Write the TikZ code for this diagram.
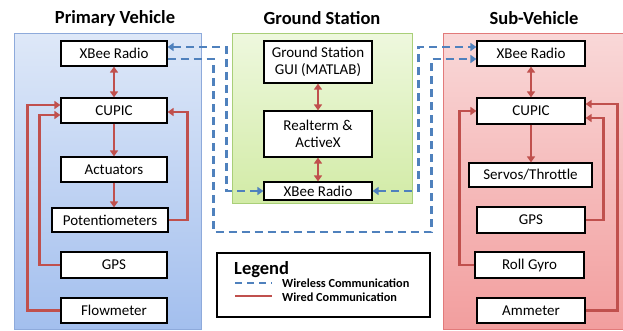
\documentclass[tikz,border=0pt]{standalone}
\usepackage{fontspec}
\setmainfont{Carlito}
\usetikzlibrary{arrows.meta,calc}
\definecolor{wiredred}{HTML}{C0504D}
\definecolor{wlblue}{HTML}{4F81BD}
\definecolor{pvtop}{HTML}{DEE8F8}
\definecolor{pvbot}{HTML}{A3BFEE}
\definecolor{pvline}{HTML}{8EAADB}
\definecolor{gstop}{HTML}{EEF8DE}
\definecolor{gsbot}{HTML}{D2EBA6}
\definecolor{gsline}{HTML}{A9CF78}
\definecolor{svtop}{HTML}{F9D8D8}
\definecolor{svbot}{HTML}{F29E9E}
\definecolor{svline}{HTML}{E27A7A}
\begin{document}
\begin{tikzpicture}[x=1pt,y=-1pt,
  bx/.style 2 args={draw=black,line width=1.2pt,fill=white,minimum width=#1pt,minimum height=#2pt,inner sep=1pt,font=\fontsize{15}{17.5}\selectfont,align=center},
  wired/.style={draw=wiredred,line width=2.4pt,-{Triangle[length=6pt,width=8pt]}},
  wired2/.style={draw=wiredred,line width=2.4pt,{Triangle[length=6pt,width=8pt]}-{Triangle[length=6pt,width=8pt]}},
  wl/.style={draw=wlblue,line width=2.4pt,dash pattern=on 8pt off 5pt},
  title/.style={font=\bfseries\fontsize{18.5}{21}\selectfont}]
\useasboundingbox (0,0) rectangle (623,330);
% panels
\shade[top color=pvtop,bottom color=pvbot,draw=pvline,line width=0.8pt] (14,33) rectangle (201,329);
\shade[top color=gstop,bottom color=gsbot,draw=gsline,line width=0.8pt] (232,33) rectangle (412,203);
\shade[top color=svtop,bottom color=svbot,draw=svline,line width=0.8pt] (443,33) rectangle (623,329);
% titles
\node[title] (tP) at (115,18) {Primary Vehicle};
\node[title] (tG) at (322,18) {Ground Station};
\node[title] (tS) at (534,18) {Sub-Vehicle};
% primary boxes
\node[bx={106}{25}] (xbP) at (114,53.5) {XBee Radio};
\node[bx={106}{25}] (cupP) at (114,110.5) {CUPIC};
\node[bx={106}{25}] (actP) at (114,169.5) {Actuators};
\node[bx={116}{24}] (potP) at (110,220) {Potentiometers};
\node[bx={106}{26}] (gpsP) at (114,265) {GPS};
\node[bx={106}{25}] (flowP) at (114,310.5) {Flowmeter};
% ground boxes
\node[bx={108}{42}] (guiG) at (318,62) {Ground Station\\GUI (MATLAB)};
\node[bx={108}{46}] (rtG) at (318,134) {Realterm \&\\ActiveX};
\node[bx={108}{18}] (xbG) at (318,191) {XBee Radio};
% sub boxes
\node[bx={108}{25}] (xbS) at (531,53.5) {XBee Radio};
\node[bx={108}{26}] (cupS) at (531,111) {CUPIC};
\node[bx={123}{24}] (srvS) at (530.5,175) {Servos/Throttle};
\node[bx={108}{26}] (gpsS) at (531,220) {GPS};
\node[bx={109}{26}] (rgS) at (529.5,265) {Roll Gyro};
\node[bx={108}{25}] (amS) at (531,310.5) {Ammeter};
% wired primary
\draw[wired2] (xbP.south) -- (cupP.north);
\draw[wired] (cupP.south) -- (actP.north);
\draw[wired] (actP.south) -- (actP.south |- potP.north);
\draw[wired] (potP.east) -- ++(19,0) |- ($(cupP.east)+(0,1.5)$);
\draw[wired] (gpsP.west) -- ++(-21,0) |- ($(cupP.west)+(0,4.5)$);
\draw[wired] (flowP.west) -- ++(-33,0) |- ($(cupP.west)+(0,-5.5)$);
% wired ground
\draw[wired2] (guiG.south) -- (rtG.north);
\draw[wired2] (rtG.south) -- (xbG.north);
% wired sub
\draw[wired2] (xbS.south) -- (cupS.north);
\draw[wired] (cupS.south) -- (cupS.south |- srvS.north);
\draw[wired] (gpsS.east) -- ++(18,0) |- ($(cupS.east)+(0,7)$);
\draw[wired] (amS.east) -- ++(32,0) |- ($(cupS.east)+(0,-7)$);
\draw[wired] (rgS.west) -- ++(-15,0) |- (cupS.west);
% wireless
\draw[wl,{Triangle[length=6pt,width=8pt]}-{Triangle[length=6pt,width=8pt]}] ($(xbP.east)+(0,-6.5)$) -| ($(xbG.west)+(-37,0)$) -- (xbG.west);
\draw[wl,{Triangle[length=6pt,width=8pt]}-{Triangle[length=6pt,width=8pt]}] (xbG.east) -- ++(46,0) |- ($(xbS.west)+(0,-6.5)$);
\draw[wl,-{Triangle[length=6pt,width=8pt]}] ($(xbP.east)+(0,5.5)$) -- ++(46,0) -- ++(0,173) -| ($(xbS.west)+(-45,5.5)$) -- ($(xbS.west)+(0,5.5)$);
% legend
\node[draw=black,line width=1.2pt,fill=white,minimum width=213pt,minimum height=64pt,inner sep=0pt] (leg) at (323.5,285) {};
\node[anchor=west,inner sep=0pt,font=\bfseries\fontsize{18.5}{20}\selectfont] (legT) at (234,270) {Legend};
\coordinate (wlA) at (235,283);
\coordinate (wlB) at (272,283);
\coordinate (wdA) at (235,296);
\coordinate (wdB) at (272,296);
\draw[wl,dash pattern=on 7pt off 5pt] (wlA) -- (wlB);
\draw[draw=wiredred,line width=2.4pt] (wdA) -- (wdB);
\node[anchor=west,inner sep=0pt,font=\bfseries\fontsize{12.3}{14}\selectfont] (wlT) at (282,283.5) {Wireless Communication};
\node[anchor=west,inner sep=0pt,font=\bfseries\fontsize{12.3}{14}\selectfont] (wdT) at (282,297.5) {Wired Communication};
\end{tikzpicture}
\end{document}
